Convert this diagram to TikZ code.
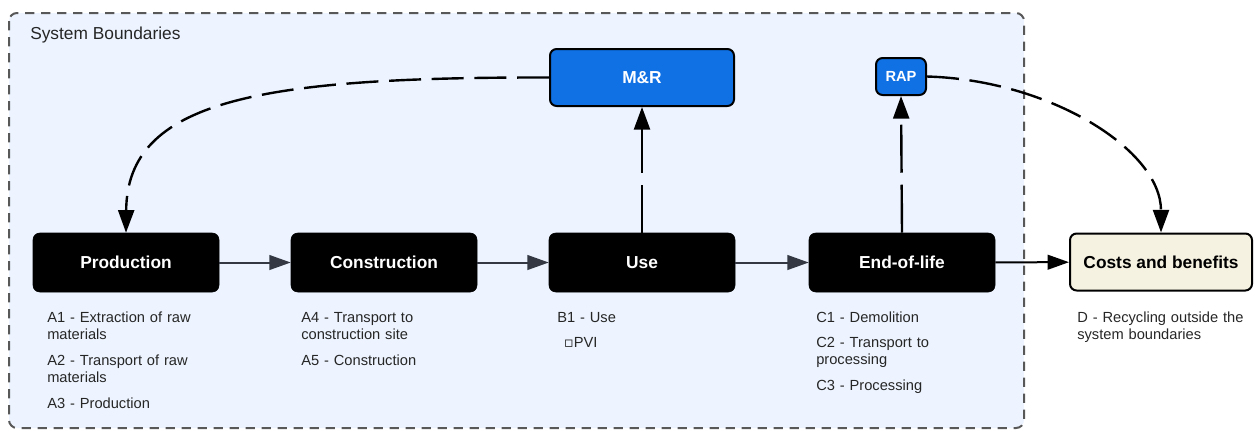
\documentclass[tikz,border=0pt]{standalone}
\usepackage{fontspec}
\setmainfont{Liberation Sans}
\newfontfamily\bulletfont{DejaVu Sans}
\usetikzlibrary{arrows.meta}
\definecolor{boundblue}{RGB}{237,244,255}
\definecolor{boundgray}{RGB}{88,88,88}
\definecolor{mrblue}{RGB}{16,113,229}
\definecolor{costcream}{RGB}{245,242,225}
\definecolor{arrowgray}{RGB}{51,56,66}

\begin{document}
\begin{tikzpicture}[x=0.75pt,y=-0.75pt]

%
% Styles
%
\tikzstyle{stage} = [rectangle,rounded corners=5pt,fill=black,draw=black,text=white,font=\fontsize{13}{15}\selectfont\bfseries,minimum width=139.5pt,minimum height=44.25pt,inner sep=0pt]
\tikzstyle{bluebox} = [rectangle,rounded corners=5pt,fill=mrblue,draw=black,line width=1.5pt,text=white,inner sep=0pt]
\tikzstyle{outbox} = [rectangle,rounded corners=5pt,fill=costcream,draw=black,line width=1.5pt,font=\fontsize{13}{15}\selectfont\bfseries,minimum width=136.5pt,minimum height=42.75pt,inner sep=0pt]
\tikzstyle{note} = [anchor=base west,align=left,text width=150pt,inner sep=0pt,text=black!85,font=\fontsize{11}{12.75}\selectfont]
\tikzstyle{flowarrow} = [draw=arrowgray,line width=1.5pt,-{Triangle[length=16pt,width=11pt]}]
\tikzstyle{dasharrow} = [draw=black,line width=1.8pt,dash pattern=on 24pt off 8pt,-{Triangle[length=17pt,width=12pt]}]

\useasboundingbox (0,0) rectangle (1255,430);

% system boundary
\draw[boundgray,fill=boundblue,line width=1.5pt,dash pattern=on 7pt off 5pt,rounded corners=6pt] (9,13) rectangle (1024,428);
\node[anchor=base west,inner sep=0pt,text=black!85,font=\fontsize{13}{15}\selectfont] (sysb) at (30,39) {System Boundaries};

\node[stage] (prod) at ( 126, 262.5) {Production};
\node[stage] (cons) at ( 384, 262.5) {Construction};
\node[stage] (use)  at ( 642, 262.5) {Use};
\node[stage] (eol)  at ( 902, 262.5) {End-of-life};
\node[outbox] (cost) at (1161, 262) {Costs and benefits};

\node[bluebox,font=\fontsize{13}{15}\selectfont\bfseries,minimum width=138pt,minimum height=42.75pt] (mr) at (642, 77.5) {M\&R};
\node[bluebox,font=\fontsize{11}{13}\selectfont\bfseries,minimum width=37.5pt,minimum height=27.75pt] (rap) at (901, 76.5) {RAP};

% notes
\node[note] (prodnote) at (47, 322) {A1 - Extraction of raw\\materials\\[6.75pt]A2 - Transport of raw\\materials\\[6.75pt]A3 - Production};
\node[note] (consnote) at (301, 322) {A4 - Transport to\\construction site\\[6.75pt]A5 - Construction};
\node[note] (usenote) at (557, 322) {B1 - Use\\[6.5pt]\hspace*{5pt}{\bulletfont\fontsize{11}{11}\selectfont\bfseries ▫}PVI};
\node[note] (eolnote) at (816, 322) {C1 - Demolition\\[6.5pt]C2 - Transport to\\processing\\[6.75pt]C3 - Processing};
\node[note] (costnote) at (1077, 322) {D - Recycling outside the\\system boundaries};

% flows
\path (prod) edge [flowarrow] (cons);
\path (cons) edge [flowarrow] (use);
\path (use)  edge [flowarrow] (eol);
\path (eol)  edge [flowarrow,draw=black] (cost);

\path (use.north) edge [dasharrow,dash pattern=on 36pt off 9pt] (mr.south);
\path (eol.north) edge [dasharrow,dash pattern=on 36pt off 9pt] (rap.south);
\draw[dasharrow] (mr.west) .. controls (260,77) and (127,100) .. (prod.north);
\draw[dasharrow] (rap.east) .. controls (1050,80) and (1161,150) .. (cost.north);

\end{tikzpicture}
\end{document}
